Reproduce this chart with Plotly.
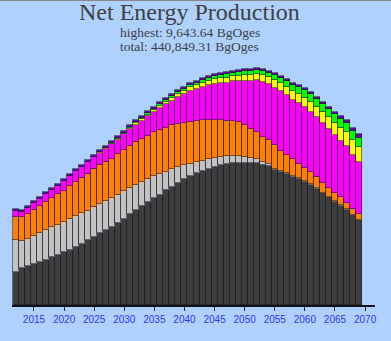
import plotly.graph_objects as go

years = list(range(2012, 2070))

black = [1326, 1488, 1569, 1664, 1745, 1840, 1935, 2030, 2138, 2246, 2368, 2490, 2625, 2774,
         2909, 3044, 3180, 3342, 3504, 3680, 3843, 4018, 4167, 4343, 4478, 4654, 4803, 4938,
         5101, 5236, 5344, 5439, 5534, 5615, 5669, 5737, 5777, 5777, 5764, 5764, 5750, 5696,
         5642, 5480, 5385, 5304, 5196, 5101, 4979, 4857, 4695, 4533, 4370, 4181, 4032, 3870,
         3640, 3437]
gray = [1299, 1096, 1109, 1150, 1164, 1204, 1231, 1231, 1218, 1231, 1258, 1231, 1204, 1218,
        1191, 1177, 1150, 1123, 1109, 1082, 1042, 988, 947, 907, 825, 758, 704, 649,
        582, 474, 446, 419, 392, 365, 338, 311, 284, 257, 244, 189, 162, 122,
        95, 54, 54, 41, 41, 41, 41, 41, 41, 27, 27, 27, 27, 27,
        27, 27]
orange = [961, 974, 1028, 1055, 1123, 1150, 1191, 1245, 1285, 1339, 1380, 1448, 1475, 1515,
          1569, 1597, 1610, 1664, 1691, 1705, 1745, 1745, 1759, 1759, 1799, 1786, 1786, 1759,
          1718, 1705, 1678, 1637, 1583, 1529, 1502, 1421, 1394, 1394, 1299, 1204, 1123, 988,
          961, 947, 825, 731, 677, 582, 555, 487, 446, 406, 365, 325, 311, 257,
          230, 216]
magenta = [230, 216, 244, 257, 257, 298, 311, 338, 406, 406, 433, 446, 501, 487,
           514, 528, 595, 582, 622, 663, 690, 731, 785, 825, 893, 947, 1001, 1096,
           1150, 1285, 1285, 1339, 1421, 1475, 1502, 1556, 1624, 1651, 1799, 1948, 2084, 2260,
           2273, 2341, 2408, 2435, 2422, 2462, 2449, 2462, 2435, 2408, 2381, 2368, 2287, 2300,
           2192, 2124]
yellow = [0, 0, 0, 0, 0, 0, 0, 0, 0, 0, 0, 0, 0, 0,
          14, 14, 14, 27, 27, 41, 54, 54, 68, 81, 95, 108, 122, 135,
          135, 149, 162, 176, 176, 189, 189, 203, 203, 216, 216, 230, 244, 257,
          271, 298, 325, 325, 338, 365, 392, 406, 433, 460, 474, 501, 541, 568,
          595, 622]
green = [0, 0, 0, 0, 0, 0, 0, 0, 0, 0, 0, 0, 0, 14,
         14, 14, 27, 27, 41, 41, 41, 54, 54, 54, 68, 68, 81, 81,
         95, 95, 108, 108, 122, 122, 135, 135, 149, 149, 162, 162, 176, 176,
         189, 203, 230, 244, 271, 284, 298, 311, 325, 325, 338, 338, 352, 352,
         365, 365]
purple = [68, 68, 81, 81, 81, 81, 81, 81, 81, 81, 81, 81, 81, 81,
          81, 81, 81, 81, 81, 81, 81, 81, 81, 81, 81, 81, 81, 81,
          81, 81, 81, 81, 81, 81, 81, 81, 81, 81, 81, 81, 81, 81,
          81, 81, 81, 81, 81, 81, 81, 81, 81, 95, 95, 108, 122, 135,
          149, 162]

series = [
    ("black", black, "#3d3d3d"),
    ("gray", gray, "#c2c2c2"),
    ("orange", orange, "#ff8000"),
    ("magenta", magenta, "#ff00ff"),
    ("yellow", yellow, "#ffff00"),
    ("green", green, "#00ff00"),
    ("purple", purple, "#5c0ca0"),
]

title_text = "Net Energy Production"
sub1 = "highest: 9,643.64 BgOges"
sub2 = "total: 440,849.31 BgOges"
tick_years = list(range(2015, 2071, 5))

fig = go.Figure()
for name, vals, col in series:
    fig.add_trace(go.Bar(
        x=years, y=vals, name=name,
        marker=dict(color=col, line=dict(color="rgba(25,25,40,0.55)", width=1)),
        showlegend=False, hoverinfo="skip",
    ))

bg = "#aed1fe"
W, H = 391, 341
ml, mr, mt, mb = 12, 16, 60, 36
ph = H - mt - mb

def py(p):
    return (H - mb - p) / ph

serif = "Liberation Serif, Times New Roman"
xc = 0.5 - 4 / 363

fig.update_layout(
    width=W, height=H,
    barmode="stack", bargap=0,
    paper_bgcolor=bg, plot_bgcolor=bg,
    margin=dict(l=ml, r=mr, t=mt, b=mb, pad=0),
    xaxis=dict(
        range=[2011.35, 2071.65],
        tickvals=tick_years,
        ticktext=[str(v) for v in tick_years],
        ticks="outside", ticklen=4, tickwidth=1, tickcolor="#222",
        showline=True, linecolor="#111", linewidth=1.5,
        showgrid=False, zeroline=False,
        tickfont=dict(family="Liberation Sans, Arial", size=10, color="#3434f8"),
    ),
    yaxis=dict(range=[0, 9942], visible=False, showgrid=False),
    annotations=[
        dict(text=title_text, xref="paper", yref="paper", x=xc, y=py(12.4),
             showarrow=False, yanchor="middle", borderpad=0,
             font=dict(family=serif, size=24, color="#404040")),
        dict(text=sub1, xref="paper", yref="paper", x=xc, y=py(32.2),
             showarrow=False, yanchor="middle", borderpad=0,
             font=dict(family=serif, size=13.5, color="#404040")),
        dict(text=sub2, xref="paper", yref="paper", x=xc, y=py(46.3),
             showarrow=False, yanchor="middle", borderpad=0,
             font=dict(family=serif, size=13.5, color="#404040")),
    ],
    shapes=[dict(type="line", xref="paper", yref="paper",
                 x0=-ml / 363, x1=1 + mr / 363, y0=py(0.5), y1=py(0.5),
                 line=dict(color="#888", width=1))],
)

fig.write_html("out.html")
